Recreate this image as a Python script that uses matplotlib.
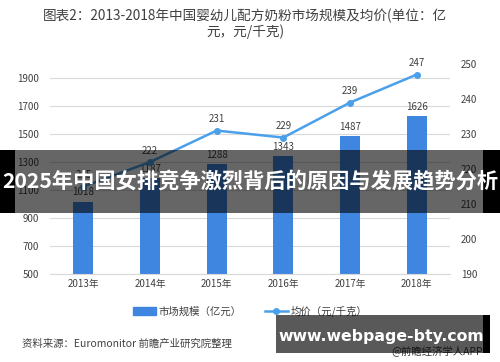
import matplotlib
matplotlib.use("Agg")
import matplotlib.pyplot as plt
from matplotlib.patches import Rectangle
from matplotlib.lines import Line2D

plt.rcParams['font.family'] = ['Noto Sans CJK SC', 'DejaVu Sans']

years = ['2013年', '2014年', '2015年', '2016年', '2017年', '2018年']
market = [1018, 1187, 1288, 1343, 1487, 1626]
price = [215, 222, 231, 229, 239, 247]
left_ticks = [500, 700, 900, 1100, 1300, 1500, 1700, 1900]
right_ticks = [190, 200, 210, 220, 230, 240, 250]

bar_color = '#3f86e0'
line_color = '#4aa0ea'
text_color = '#404040'

fig = plt.figure(figsize=(5, 3.62), dpi=100)
ax = fig.add_axes([0.1, 0.243, 0.8, 0.58])
x = list(range(len(years)))
ax.bar(x, market, width=0.3, color=bar_color, zorder=2)
ax.set_ylim(500, 2000)
ax.set_xlim(-0.5, 5.5)
ax.set_yticks(left_ticks)
ax.set_xticks(x)
ax.set_xticklabels(years)
ax.grid(axis='y', color='#d9d9d9', linewidth=0.8, zorder=0)
for s in ['top', 'right', 'left']:
    ax.spines[s].set_visible(False)
ax.spines['bottom'].set_color('#d9d9d9')
ax.tick_params(axis='both', length=0, labelsize=7, colors=text_color)
ax.tick_params(axis='y', pad=8)
for xi, v in zip(x, market):
    ax.text(xi, v + 30, str(v), ha='center', va='bottom', fontsize=7, color=text_color, zorder=5)

ax2 = ax.twinx()
ax2.plot(x, price, color=line_color, linewidth=1.8, marker='o', markersize=4, zorder=4)
ax2.set_ylim(190, 250)
ax2.set_yticks(right_ticks)
for s in ['top', 'right', 'left', 'bottom']:
    ax2.spines[s].set_visible(False)
ax2.tick_params(axis='y', length=0, labelsize=7, colors=text_color, pad=8)
for xi, v in zip(x, price):
    ax2.text(xi, v + 1.8, str(v), ha='center', va='bottom', fontsize=7, color=text_color, zorder=5)

fig.text(0.49, 0.955, '图表2：2013-2018年中国婴幼儿配方奶粉市场规模及均价(单位：亿', ha='center', va='center', fontsize=9.8, color=text_color)
fig.text(0.49, 0.912, '元，元/千克)', ha='center', va='center', fontsize=9.8, color=text_color)

handles = [Rectangle((0, 0), 1, 1, color=bar_color),
           Line2D([0], [0], color=line_color, linewidth=1.8, marker='o', markersize=4)]
fig.legend(handles, ['市场规模（亿元）', '均价（元/千克）'], loc='center', bbox_to_anchor=(0.5, 0.14),
           ncol=2, frameon=False, fontsize=7.5, handlelength=2.2, handletextpad=0.3,
           columnspacing=2.2, labelcolor=text_color)

fig.text(0.045, 0.05, '资料来源：Euromonitor 前瞻产业研究院整理', ha='left', va='center', fontsize=7.5, color=text_color)
fig.text(0.965, 0.03, '@前瞻经济学人APP', ha='right', va='center', fontsize=7.5, color=text_color)

# overlay banner (semi-transparent centre, solid edges)
fig.patches.append(Rectangle((0, 1 - 213 / 362), 15 / 500, 63 / 362, transform=fig.transFigure,
                             facecolor='black', edgecolor='none', zorder=10))
fig.patches.append(Rectangle((483 / 500, 1 - 213 / 362), 17 / 500, 63 / 362, transform=fig.transFigure,
                             facecolor='black', edgecolor='none', zorder=10))
fig.patches.append(Rectangle((15 / 500, 1 - 213 / 362), 468 / 500, 63 / 362, transform=fig.transFigure,
                             facecolor='black', alpha=0.6, edgecolor='none', zorder=11))
fig.text(0.5, 1 - 182 / 362, '2025年中国女排竞争激烈背后的原因与发展趋势分析', ha='center', va='center',
         fontsize=15.3, fontweight='bold', color='white', zorder=12)

# bottom watermark box
fig.patches.append(Rectangle((483 / 500, 1 - 353 / 362), 7 / 500, 38 / 362, transform=fig.transFigure,
                             facecolor='black', edgecolor='none', zorder=10))
fig.patches.append(Rectangle((276 / 500, 1 - 353 / 362), 207 / 500, 38 / 362, transform=fig.transFigure,
                             facecolor='black', alpha=0.65, edgecolor='none', zorder=11))
fig.text(381 / 500, 1 - 337 / 362, 'www.webpage-bty.com', ha='center', va='center',
         fontsize=11.3, fontweight='bold', color='white', family='DejaVu Sans', zorder=12)

fig.savefig('out.png', dpi=100)
